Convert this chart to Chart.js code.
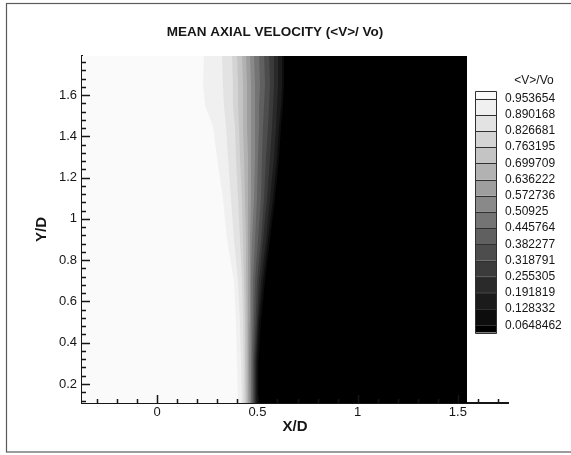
<!DOCTYPE html>
<html>
<head>
<meta charset="utf-8">
<title>Mean axial velocity</title>
<script src="https://cdn.jsdelivr.net/npm/chart.js@4.4.1/dist/chart.umd.min.js"></script>
<style>
  html, body { margin: 0; padding: 0; background: #fff; }
  canvas { display: block; }
</style>
</head>
<body>
<canvas id="contour" width="571" height="455"></canvas>
<script>
// contour levels of <V>/Vo, top of the colour bar to bottom
const LEVELS = [0.953654, 0.890168, 0.826681, 0.763195, 0.699709, 0.636222, 0.572736, 0.50925,
                0.445764, 0.382277, 0.318791, 0.255305, 0.191819, 0.128332, 0.0648462];
// flood colours, from below the lowest level up to above the highest one
const BAND_COLORS = ['#000000', '#0d0d0d', '#1b1b1b', '#2a2a2a', '#3b3b3b', '#4d4d4d', '#606060', '#747474',
                     '#898989', '#9e9e9e', '#b2b2b2', '#c4c4c4', '#d4d4d4', '#e3e3e3', '#f0f0f0', '#fafafa'];

// Y/D stations where the iso-lines are traced
const Y_ROWS = [0.1, 0.3, 0.5, 0.7, 0.9, 1.1, 1.3, 1.45, 1.55, 1.65, 1.8];

// X/D of each iso-line at those stations
const ISO_0953654 = [0.403, 0.398, 0.393, 0.383, 0.348, 0.328, 0.298, 0.278, 0.239, 0.229, 0.234];
const ISO_0890168 = [0.423, 0.418, 0.413, 0.403, 0.383, 0.368, 0.353, 0.343, 0.333, 0.328, 0.323];
const ISO_0826681 = [0.433, 0.431, 0.428, 0.423, 0.413, 0.403, 0.393, 0.388, 0.378, 0.378, 0.373];
const ISO_0763195 = [0.441, 0.438, 0.438, 0.433, 0.428, 0.423, 0.413, 0.408, 0.403, 0.403, 0.398];
const ISO_0699709 = [0.448, 0.446, 0.446, 0.443, 0.443, 0.438, 0.433, 0.428, 0.428, 0.428, 0.423];
const ISO_0636222 = [0.453, 0.453, 0.453, 0.453, 0.453, 0.453, 0.453, 0.448, 0.448, 0.448, 0.443];
const ISO_0572736 = [0.461, 0.458, 0.461, 0.463, 0.463, 0.468, 0.468, 0.468, 0.468, 0.468, 0.463];
const ISO_050925  = [0.466, 0.466, 0.468, 0.468, 0.473, 0.483, 0.488, 0.488, 0.488, 0.488, 0.483];
const ISO_0445764 = [0.471, 0.471, 0.476, 0.478, 0.488, 0.498, 0.503, 0.508, 0.508, 0.513, 0.508];
const ISO_0382277 = [0.478, 0.478, 0.483, 0.488, 0.503, 0.518, 0.523, 0.528, 0.533, 0.538, 0.533];
const ISO_0318791 = [0.483, 0.483, 0.491, 0.498, 0.518, 0.533, 0.543, 0.553, 0.558, 0.563, 0.558];
const ISO_0255305 = [0.488, 0.488, 0.498, 0.508, 0.528, 0.548, 0.563, 0.573, 0.578, 0.583, 0.583];
const ISO_0191819 = [0.493, 0.493, 0.503, 0.518, 0.543, 0.563, 0.583, 0.593, 0.598, 0.603, 0.603];
const ISO_0128332 = [0.498, 0.498, 0.508, 0.528, 0.553, 0.578, 0.598, 0.608, 0.618, 0.623, 0.623];
const ISO_0064846 = [0.505, 0.505, 0.518, 0.538, 0.563, 0.588, 0.608, 0.618, 0.628, 0.633, 0.633];

const ISO_LINES = [ISO_0953654, ISO_0890168, ISO_0826681, ISO_0763195, ISO_0699709, ISO_0636222,
                   ISO_0572736, ISO_050925, ISO_0445764, ISO_0382277, ISO_0318791, ISO_0255305,
                   ISO_0191819, ISO_0128332, ISO_0064846];

// axis ticks
const X_MAJOR = [0, 0.5, 1, 1.5];
const X_MINOR = [-0.3, -0.2, -0.1, 0.1, 0.2, 0.3, 0.4, 0.6, 0.7, 0.8, 0.9, 1.1, 1.2, 1.3, 1.4, 1.6, 1.7];
const Y_MAJOR = [0.2, 0.4, 0.6, 0.8, 1, 1.2, 1.4, 1.6];
const Y_MINOR = [0.12, 0.16, 0.24, 0.28, 0.32, 0.36, 0.44, 0.48, 0.52, 0.56, 0.64, 0.68, 0.72, 0.76,
                 0.84, 0.88, 0.92, 0.96, 1.04, 1.08, 1.12, 1.16, 1.24, 1.28, 1.32, 1.36, 1.44, 1.48,
                 1.52, 1.56, 1.64, 1.68, 1.72, 1.76];

const X_MIN = -0.375, X_MAX = 1.75, X_EDGE = 1.545;   // measured domain ends at X/D = 1.545
const Y_MIN = 0.108, Y_MAX = 1.789;
const FONT = '"Liberation Sans", Arial, Helvetica, sans-serif';
const INK = '#161616';

Chart.defaults.font.family = FONT;
Chart.defaults.color = INK;

// each level is flooded from its iso-line to the right edge; darker levels are painted later
const datasets = [{
  data: [{ x: X_EDGE, y: Y_ROWS[0] }, { x: X_MIN, y: Y_ROWS[0] },
         { x: X_MIN, y: Y_ROWS[Y_ROWS.length - 1] }, { x: X_EDGE, y: Y_ROWS[Y_ROWS.length - 1] }],
  backgroundColor: BAND_COLORS[15],
  order: 100
}];
ISO_LINES.forEach((xs, k) => {
  const pts = Y_ROWS.map((y, i) => ({ x: xs[i], y }));
  pts.push({ x: X_EDGE, y: Y_ROWS[Y_ROWS.length - 1] }, { x: X_EDGE, y: Y_ROWS[0] });
  datasets.push({ data: pts, backgroundColor: BAND_COLORS[14 - k], order: 99 - k });
});
datasets.forEach(d => Object.assign(d, { fill: 'shape', borderWidth: 0, pointRadius: 0, tension: 0 }));

const fmt = v => String(Math.round(v * 100) / 100);

// page frame
const frame = {
  id: 'frame',
  beforeDraw(chart) {
    const ctx = chart.ctx;
    ctx.save();
    ctx.fillStyle = '#fff';
    ctx.fillRect(0, 0, chart.width, chart.height);
    ctx.strokeStyle = '#5a5a5a';
    ctx.lineWidth = 1.2;
    ctx.strokeRect(6.5, 3.5, 620, 448.5);
    ctx.restore();
  }
};

// tick marks pointing into the plot
const innerTicks = {
  id: 'innerTicks',
  afterDraw(chart) {
    const { ctx, chartArea: a, scales: { x, y } } = chart;
    ctx.save();
    ctx.strokeStyle = INK;
    ctx.lineWidth = 1.5;
    ctx.beginPath();
    const xt = (v, len) => { const p = Math.round(x.getPixelForValue(v)) + 0.5; ctx.moveTo(p, a.bottom); ctx.lineTo(p, a.bottom - len); };
    const yt = (v, len) => { const p = Math.round(y.getPixelForValue(v)) + 0.5; ctx.moveTo(a.left, p); ctx.lineTo(a.left + len, p); };
    X_MAJOR.forEach(v => xt(v, 8));
    X_MINOR.forEach(v => xt(v, 4));
    Y_MAJOR.forEach(v => yt(v, 8));
    Y_MINOR.forEach(v => yt(v, 4));
    ctx.stroke();
    ctx.restore();
  }
};

// colour bar with level values
const colourBar = {
  id: 'colourBar',
  afterDraw(chart) {
    const ctx = chart.ctx;
    const left = 475.5, w = 21, top = 90.5, first = 98.5, step = 16.2, bottom = 332.5;
    const edges = [top, ...LEVELS.map((_, k) => first + k * step), bottom];
    ctx.save();
    for (let i = 0; i < edges.length - 1; i++) {
      ctx.fillStyle = BAND_COLORS[15 - i];
      ctx.fillRect(left, edges[i], w, edges[i + 1] - edges[i]);
    }
    ctx.strokeStyle = '#303030';
    ctx.lineWidth = 1;
    ctx.beginPath();
    edges.forEach(e => { const p = Math.round(e) + 0.5; ctx.moveTo(left, p); ctx.lineTo(left + w, p); });
    ctx.moveTo(left, Math.round(top) + 0.5); ctx.lineTo(left, Math.round(bottom) + 0.5);
    ctx.moveTo(left + w, Math.round(top) + 0.5); ctx.lineTo(left + w, Math.round(bottom) + 0.5);
    ctx.stroke();

    ctx.fillStyle = INK;
    ctx.font = '12px ' + FONT;
    ctx.textBaseline = 'middle';
    ctx.textAlign = 'center';
    ctx.fillText('<V>/Vo', 534, 81);
    ctx.textAlign = 'left';
    LEVELS.forEach((v, k) => ctx.fillText(String(v), 505, first + k * step));
    ctx.restore();
  }
};

new Chart(document.getElementById('contour'), {
  type: 'line',
  data: { datasets },
  plugins: [frame, innerTicks, colourBar],
  options: {
    responsive: false,
    animation: false,
    events: [],
    layout: { padding: { left: 42, right: 63, top: 0, bottom: 0 } },
    plugins: {
      legend: { display: false },
      tooltip: { enabled: false },
      title: {
        display: true,
        text: 'MEAN AXIAL VELOCITY (<V>/ Vo)',
        color: INK,
        font: { size: 13.5, weight: 'bold' },
        padding: { top: 24, bottom: 15.8 }
      }
    },
    scales: {
      x: {
        type: 'linear',
        min: X_MIN, max: X_MAX,
        z: 1,
        afterFit: s => { s.height = 52; },
        afterBuildTicks: s => { s.ticks = X_MAJOR.map(value => ({ value })); },
        grid: { display: false, drawTicks: false },
        border: { display: true, color: INK, width: 2 },
        ticks: { autoSkip: false, maxRotation: 0, padding: 2, font: { size: 13 }, callback: fmt },
        title: { display: true, text: 'X/D', font: { size: 15, weight: 'bold' }, padding: { top: 0, bottom: 19.5 } }
      },
      y: {
        type: 'linear',
        min: Y_MIN, max: Y_MAX,
        z: 1,
        afterFit: s => { s.width = 40; },
        afterBuildTicks: s => { s.ticks = Y_MAJOR.map(value => ({ value })); },
        grid: { display: false, drawTicks: false },
        border: { display: true, color: INK, width: 2 },
        ticks: { autoSkip: false, padding: 5, font: { size: 13 }, callback: fmt },
        title: { display: true, text: 'Y/D', font: { size: 15, weight: 'bold' }, padding: { top: -9, bottom: 0 } }
      }
    }
  }
});
</script>
</body>
</html>
